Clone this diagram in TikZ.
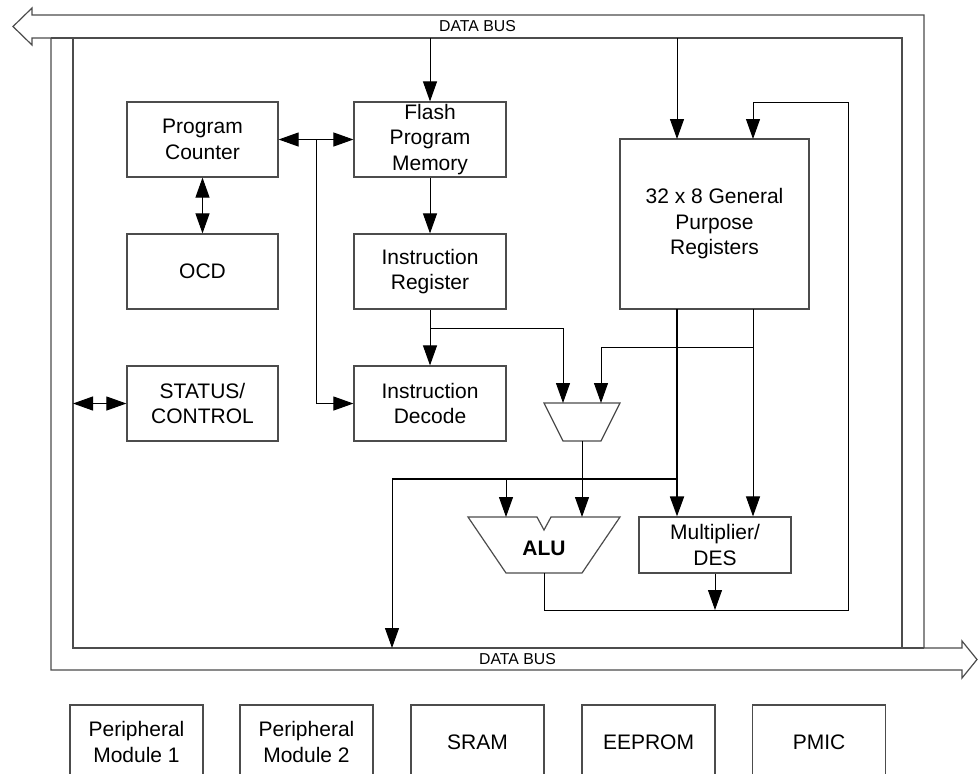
\documentclass[tikz,border=0pt]{standalone}
\usepackage{fontspec}
\setmainfont{Liberation Sans}
\usetikzlibrary{arrows.meta}
\tikzset{
  blk/.style={draw=black!70, line width=0.6pt, minimum width=75.5pt, minimum height=37.5pt,
    inner sep=0pt, align=center, font=\fontsize{10.5}{12.75}\selectfont},
  arr/.style={-{Triangle[length=10pt,width=7pt]}, line width=0.5pt},
  dbl/.style={{Triangle[length=10pt,width=7pt]}-{Triangle[length=10pt,width=7pt]}, line width=0.5pt},
  bus/.style={draw=black!70, line width=0.6pt},
  bustext/.style={inner sep=0pt, font=\fontsize{7.9}{9}\selectfont},
}
\begin{document}
\begin{tikzpicture}[x=0.5pt,y=-0.5pt]
\useasboundingbox (0,0) rectangle (978,773);
\clip (0,0) rectangle (978,773);
% data bus
\draw[bus] (32,15) -- (924,15) -- (924,648) -- (962,648) -- (962,641) -- (977,659.5)
  -- (962,678) -- (962,670) -- (51,670) -- (51,38) -- (32,38) -- (32,45) -- (13,26.5)
  -- (32,8) -- cycle;
\draw[bus] (73,38) rectangle (902,648);
\draw[bus] (51,38) -- (73,38) (902,648) -- (924,648);
\node[bustext] (bustop) at (477.5,26.5) {DATA BUS};
\node[bustext] (busbot) at (517.5,659.5) {DATA BUS};
\coordinate (bin) at (73,38);
\coordinate (bout) at (73,648);
% blocks
\node[blk] (pc) at (202.5,139.5) {Program\\Counter};
\node[blk, minimum width=76pt] (flash) at (430,139.5) {Flash\\Program\\Memory};
\node[blk] (ocd) at (202.5,271.5) {OCD};
\node[blk, minimum width=76pt] (ir) at (430,271.5) {Instruction\\Register};
\node[blk] (stat) at (202.5,403.5) {STATUS/\\CONTROL};
\node[blk, minimum width=76pt] (dec) at (430,403.5) {Instruction\\Decode};
\node[blk, minimum width=94.5pt, minimum height=85pt] (gpr) at (714.5,224) {32 x 8 General\\Purpose\\Registers};
\node[blk, minimum width=76pt, minimum height=28pt] (mul) at (715,545) {Multiplier/\\DES};
% mux and alu
\draw[bus] (544,403) -- (620,403) -- (601,441) -- (563,441) -- cycle;
\coordinate (muxa) at (563,403);
\coordinate (muxb) at (601,403);
\coordinate (muxo) at (582,441);
\draw[bus] (468,517) -- (537,517) -- (544,530) -- (551,517) -- (620,517) -- (582,573)
  -- (506,573) -- cycle;
\node[font=\fontsize{10.5}{12.75}\selectfont\bfseries] (alu) at (544,548) {ALU};
\coordinate (alua) at (506,517);
\coordinate (alub) at (582,517);
\coordinate (aluo) at (544,573);
% ports and junctions
\coordinate (gin1) at (677,139);
\coordinate (gin2) at (753,139);
\coordinate (gout1) at (677,309);
\coordinate (gout2) at (753,309);
\coordinate (j1) at (677,479);
\coordinate (j2) at (753,347);
\coordinate (j3) at (430,328);
\coordinate (j4) at (316,139.5);
\coordinate (j5) at (848,610);
\coordinate (j6) at (753,102);
\coordinate (busin) at (392,648);
% connectors
\draw[arr] (flash.north |- bin) -- (flash.north);
\draw[arr] (gin1 |- bin) -- (gin1);
\draw[arr] (flash.south) -- (ir.north);
\draw[arr] (ir.south) -- (dec.north);
\draw[dbl] (pc.east) -- (flash.west);
\draw[arr] (j4) |- (dec.west);
\draw[dbl] (pc.south) -- (ocd.north);
\draw[dbl] (bout |- stat.west) -- (stat.west);
\draw[arr] (j3) -| (muxa);
\draw[arr] (j2) -| (muxb);
\draw[arr] (muxo) -- (alub);
\draw[arr, line width=0.9pt] (gout1) -- (gout1 |- mul.north);
\draw[arr] (gout2) -- (gout2 |- mul.north);
\draw[line width=0.9pt] (j1) -- (busin |- j1);
\draw[arr] (busin |- j1) -- (busin);
\draw[arr] (alua |- j1) -- (alua);
\draw[arr] (aluo) |- (j5) |- (j6) -- (gin2);
\draw[arr] (mul.south) -- (mul.south |- j5);
% peripherals
\foreach \n/\x/\t in {per1/136.5/{Peripheral\\Module 1}, per2/306.5/{Peripheral\\Module 2},
    sram/477.5/SRAM, eeprom/648.5/EEPROM, pmic/819/PMIC}
  \node[blk, minimum width=66.5pt, minimum height=37pt] (\n) at (\x,742) {\t};
\end{tikzpicture}
\end{document}
